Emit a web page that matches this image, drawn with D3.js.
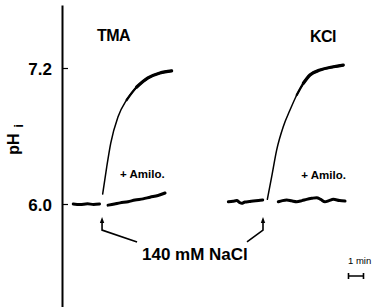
<!DOCTYPE html>
<html>
<head>
<meta charset="utf-8">
<title>pHi recovery, TMA vs KCl</title>
<style>
  body { margin: 0; background: #fff; }
  svg text { font-family: "Liberation Sans", Arial, sans-serif; fill: #000; }
  .axis path, .axis line { stroke: #000; }
  .axis text { font-size: 17px; font-weight: bold; }
</style>
</head>
<body>
<div id="chart"></div>
<script src="https://d3js.org/d3.v7.min.js"></script>
<script>
// time in minutes, pH values
var tickValues = [6.0, 7.2];

var tmaBase = [[0.75, 6.0], [1.2, 5.995], [1.7, 6.002], [2.1, 5.996], [2.5, 6.0]];
var tmaRise = [[2.71, 6.088], [2.98, 6.326], [3.25, 6.538], [3.73, 6.768], [4.31, 6.918],
               [4.98, 7.032], [5.73, 7.112], [6.53, 7.156], [7.31, 7.174]];
var tmaAmilo = [[3.07, 5.99], [3.5, 6.0], [3.87, 6.01], [4.4, 6.02], [4.87, 6.035],
                [5.4, 6.045], [5.87, 6.06], [6.4, 6.075], [6.87, 6.097]];

var kclBase = [[11.09, 6.02], [11.4, 6.025], [11.65, 6.03], [11.85, 6.012], [11.98, 6.006],
               [12.2, 6.018], [12.5, 6.022], [12.75, 6.026], [13.1, 6.03], [13.38, 6.035]];
var kclRise = [[13.69, 6.041], [13.98, 6.241], [14.31, 6.476], [14.75, 6.682], [15.2, 6.829],
               [15.65, 6.962], [16.09, 7.065], [16.53, 7.138], [17.2, 7.182], [18.09, 7.211],
               [18.75, 7.226]];
var kclAmilo = [[14.42, 6.02], [14.7, 6.03], [14.98, 6.035], [15.3, 6.028], [15.65, 6.02],
                [16.0, 6.03], [16.31, 6.041], [16.65, 6.05], [16.98, 6.056], [17.25, 6.04],
                [17.53, 6.02], [17.8, 6.03], [18.09, 6.041], [18.5, 6.03], [18.87, 6.026]];

var naclTimes = [2.67, 13.4];
var salts = ["TMA", "KCl"];

var width = 372, height = 307;

var svg = d3.select("#chart").append("svg")
    .attr("width", width)
    .attr("height", height);

var x = d3.scaleLinear().domain([0, 20.667]).range([62, 372]);
var y = d3.scaleLinear().domain([5.0912, 7.7559]).range([307, 5]);

// y axis, ticks pointing into the plot
svg.append("g")
    .attr("class", "axis")
    .attr("transform", "translate(" + x(0) + ",0)")
    .call(d3.axisLeft(y).tickValues(tickValues).tickFormat(d3.format(".1f"))
        .tickSizeInner(-6).tickSizeOuter(0).tickPadding(10))
    .call(function(g) { g.select(".domain").attr("stroke-width", 2); })
    .call(function(g) { g.selectAll(".tick line").attr("stroke-width", 1.2); })
    .call(function(g) { g.selectAll(".tick text").attr("dy", "0.36em"); });

// axis label pH_i
svg.append("text")
    .attr("transform", "translate(19,144) rotate(-90)")
    .attr("text-anchor", "middle")
    .style("font-size", "16px").style("font-weight", "bold")
    .text("pH");
svg.append("text")
    .attr("transform", "translate(23,126) rotate(-90)")
    .attr("text-anchor", "middle")
    .style("font-size", "13px").style("font-weight", "bold")
    .text("i");

var line = d3.line()
    .x(function(d) { return x(d[0]); })
    .y(function(d) { return y(d[1]); })
    .curve(d3.curveMonotoneX);

function trace(data, w) {
  svg.append("path")
      .datum(data)
      .attr("d", line)
      .attr("fill", "none")
      .attr("stroke", "#000")
      .attr("stroke-width", w)
      .attr("stroke-linecap", "round")
      .attr("stroke-linejoin", "round");
}

function rise(data) {
  trace(data, 1.5);
  trace(data.filter(function(d) { return d[1] > 6.85; }), 2.3);
  trace(data.filter(function(d) { return d[1] > 7.0; }), 3.2);
}

trace(tmaBase, 3);
rise(tmaRise);
trace(tmaAmilo, 3);

trace(kclBase, 3);
rise(kclRise);
trace(kclAmilo, 3);

// labels
svg.append("text").attr("x", 97).attr("y", 41)
    .style("font-size", "16px").style("font-weight", "bold").style("letter-spacing", "-0.5px")
    .text(salts[0]);
svg.append("text").attr("x", 310).attr("y", 42)
    .style("font-size", "16px").style("font-weight", "bold").style("letter-spacing", "-0.5px")
    .text(salts[1]);

svg.selectAll("text.amilo")
    .data([[3.87, 178], [15.95, 179]])
    .join("text")
    .attr("class", "amilo")
    .attr("x", function(d) { return x(d[0]); })
    .attr("y", function(d) { return d[1]; })
    .style("font-size", "11.5px").style("font-weight", "bold")
    .text("+ Amilo.");

// NaCl arrows
var tip = y(5.885), bend = y(5.77), foot = y(5.665);
svg.selectAll("path.arrow")
    .data(naclTimes)
    .join("path")
    .attr("class", "arrow")
    .attr("d", function(t, i) {
      var ax = x(t), fx = i === 0 ? ax + 35 : ax - 16;
      return "M" + ax + "," + (tip + 3) + "L" + ax + "," + bend + "L" + fx + "," + foot;
    })
    .attr("fill", "none")
    .attr("stroke", "#000")
    .attr("stroke-width", 1.6);
svg.selectAll("path.head")
    .data(naclTimes)
    .join("path")
    .attr("class", "head")
    .attr("d", function(t) {
      var ax = x(t);
      return "M" + ax + "," + tip + "L" + (ax - 2.2) + "," + (tip + 6) + "L" + (ax + 2.2) + "," + (tip + 6) + "Z";
    })
    .attr("fill", "#000");

svg.append("text").attr("x", 142).attr("y", 260)
    .style("font-size", "17px").style("font-weight", "bold")
    .text("140 mM NaCl");

// 1 min scale bar
svg.append("text").attr("x", 348).attr("y", 264)
    .style("font-size", "9.5px")
    .text("1 min");
var bx0 = x(19.1), bx1 = x(20.1), by = 276;
svg.append("path")
    .attr("d", "M" + bx0 + "," + by + "H" + bx1 + "M" + bx0 + "," + (by - 3) + "V" + (by + 3) + "M" + bx1 + "," + (by - 3) + "V" + (by + 3))
    .attr("stroke", "#000").attr("stroke-width", 1.6).attr("fill", "none");
</script>
</body>
</html>
